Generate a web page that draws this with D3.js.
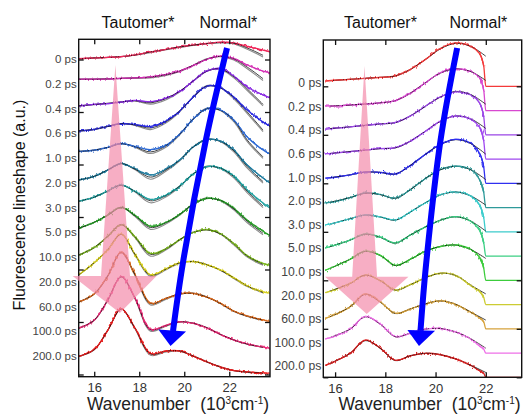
<!DOCTYPE html>
<html>
<head>
<meta charset="utf-8">
<script src="https://cdn.jsdelivr.net/npm/d3@7"></script>
<style>
  html, body { margin: 0; padding: 0; background: #fff; }
  svg { display: block; font-family: "Liberation Sans", Arial, sans-serif; }
</style>
</head>
<body>
<svg id="chart" width="526" height="414"></svg>
<script>
// ---- Delay times (one trace per delay, top to bottom) ----
const delays = ["0 ps", "0.2 ps", "0.4 ps", "0.6 ps", "1.0 ps", "2.0 ps", "3.0 ps",
                "5.0 ps", "10.0 ps", "20.0 ps", "60.0 ps", "100.0 ps", "200.0 ps"];
const xTicks = [16, 18, 20, 22];

// ---- Left panel: wavenumber grid (10^3 cm^-1) and lineshapes (a.u. above each baseline) ----
const leftGrid = [15.3, 16, 16.6, 17.2, 17.8, 18.5, 19.2, 19.8, 20.4, 21.0, 21.6, 22.2, 22.8, 23.5, 23.8];
const leftFitGrid = [15.3, 16, 16.6, 17.2, 17.8, 18.5, 19.2, 19.8, 20.4, 21.0, 21.6, 22.2, 22.8, 23.5];
const leftMeasured = [
  [0.3, 0.6, 0.8, 1.1, 1.7, 2.9, 3.9, 4.8, 5.5, 6.1, 6.6, 6.3, 5.0, 3.6, 2.9],
  [2.5, 2.5, 2.6, 2.8, 3.0, 3.4, 4.3, 5.6, 7.7, 10.1, 11.3, 10.4, 7.9, 5.6, 5.0],
  [2.3, 2.9, 3.2, 3.8, 4.4, 3.9, 5.3, 7.8, 11.8, 15.6, 16.6, 13.7, 9.5, 6.5, 5.4],
  [2.8, 3.4, 4.5, 5.6, 5.2, 4.5, 6.6, 10.4, 15.7, 19.9, 19.3, 15.7, 10.8, 6.2, 4.7],
  [5.0, 5.5, 6.5, 8.0, 6.9, 5.7, 7.4, 11.6, 17.3, 21.3, 20.8, 17.0, 10.5, 5.5, 4.0],
  [4.1, 5.5, 7.9, 10.4, 8.4, 6.0, 8.3, 11.7, 16.7, 19.5, 19.0, 15.5, 9.8, 4.9, 3.0],
  [6.0, 7.6, 9.9, 12.2, 9.9, 6.7, 8.4, 11.8, 16.4, 19.2, 18.7, 15.6, 10.3, 5.3, 3.4],
  [5.7, 8.0, 10.7, 13.7, 10.7, 6.5, 8.0, 11.0, 14.9, 17.1, 16.4, 13.3, 8.8, 4.6, 3.0],
  [5.5, 8.4, 12.6, 17.1, 12.6, 6.1, 8.0, 11.4, 14.1, 15.2, 13.7, 9.9, 5.3, 2.3, 1.7],
  [7.9, 12.6, 17.5, 23.6, 16.0, 8.0, 10.3, 12.6, 13.0, 11.8, 9.9, 6.9, 3.8, 1.5, 1.0],
  [7.6, 10.7, 17.5, 26.7, 18.3, 7.2, 9.1, 10.7, 10.9, 9.5, 7.2, 4.2, 2.3, 0.8, 0.2],
  [7.6, 10.7, 18.3, 27.4, 19.4, 7.2, 8.8, 10.1, 9.5, 7.8, 5.3, 3.2, 1.7, 0.4, 0.0],
  [6.9, 9.5, 16.8, 25.1, 17.9, 8.0, 9.0, 9.0, 7.0, 4.8, 2.9, 1.5, 1.0, 0.6, 0.5]
];
const leftFit = [
  [0.3, 0.6, 0.8, 1.1, 1.7, 2.9, 3.9, 4.8, 5.5, 6.1, 6.5, 6.2, 4.4, 1.6],
  [2.5, 2.5, 2.6, 2.8, 3.0, 3.3, 4.2, 5.6, 7.8, 10.1, 11.2, 10.2, 7.1, 2.7],
  [2.3, 2.9, 3.3, 3.8, 4.3, 3.5, 5.2, 7.9, 11.8, 15.5, 16.4, 13.5, 8.8, 2.9],
  [2.8, 3.4, 4.5, 5.5, 5.1, 3.9, 6.4, 10.4, 15.7, 19.8, 19.3, 15.5, 10.0, 3.1],
  [5.0, 5.5, 6.5, 7.9, 6.8, 4.8, 7.2, 11.6, 17.3, 21.2, 20.7, 16.8, 9.3, 2.9],
  [4.1, 5.5, 7.9, 10.3, 8.3, 5.2, 8.0, 11.7, 16.7, 19.4, 18.9, 15.3, 9.2, 3.5],
  [6.0, 7.6, 9.9, 12.1, 9.8, 6.2, 8.2, 11.8, 16.4, 19.1, 18.6, 15.4, 9.8, 4.2],
  [5.7, 8.0, 10.7, 13.6, 10.6, 6.0, 7.9, 11.0, 14.9, 17.0, 16.3, 13.1, 8.4, 3.8],
  [5.5, 8.4, 12.6, 17.0, 12.5, 5.8, 7.9, 11.4, 14.1, 15.1, 13.6, 9.8, 5.1, 2.0],
  [7.9, 12.6, 17.5, 23.4, 15.9, 7.8, 10.2, 12.6, 13.0, 11.8, 9.8, 6.8, 3.7, 1.3],
  [7.6, 10.7, 17.5, 26.5, 18.2, 7.0, 9.0, 10.7, 10.9, 9.5, 7.1, 4.1, 2.2, 0.7],
  [7.6, 10.7, 18.3, 27.2, 19.3, 7.0, 8.7, 10.1, 9.5, 7.8, 5.3, 3.2, 1.6, 0.4],
  [6.9, 9.5, 16.8, 24.9, 17.8, 7.8, 8.9, 9.0, 7.0, 4.8, 2.9, 1.5, 0.9, 0.5]
];
const leftAltFit = [
  [0.2, 0.5, 0.8, 1.1, 1.6, 2.6, 3.7, 4.6, 5.4, 6.0, 6.3, 5.9, 3.9, 1.0],
  [2.4, 2.5, 2.6, 2.8, 2.9, 3.0, 3.9, 5.4, 7.8, 10.3, 11.1, 9.8, 6.5, 2.0],
  [2.2, 2.8, 3.3, 3.9, 4.2, 3.0, 4.7, 7.6, 11.9, 15.8, 16.3, 13.0, 8.2, 2.3],
  [2.7, 3.3, 4.5, 5.6, 4.9, 3.3, 5.9, 10.1, 15.8, 20.1, 19.2, 15.0, 9.4, 2.5],
  [4.9, 5.4, 6.5, 8.0, 6.6, 4.2, 6.7, 11.3, 17.4, 21.5, 20.6, 16.3, 8.7, 2.3],
  [4.0, 5.4, 7.9, 10.4, 8.1, 4.4, 7.5, 11.4, 16.8, 19.7, 18.8, 14.8, 8.6, 2.9],
  [5.9, 7.5, 9.9, 12.2, 9.6, 5.4, 7.7, 11.5, 16.5, 19.4, 18.5, 14.9, 9.2, 3.6],
  [5.6, 7.9, 10.8, 13.7, 10.3, 5.3, 7.4, 10.7, 15.0, 17.3, 16.2, 12.7, 7.8, 3.2],
  [5.4, 8.3, 12.7, 17.2, 12.2, 5.1, 7.5, 11.2, 14.2, 15.3, 13.5, 9.4, 4.7, 1.6],
  [7.8, 12.5, 17.6, 23.5, 15.6, 7.3, 9.9, 12.4, 13.1, 11.9, 9.7, 6.6, 3.5, 1.1],
  [7.5, 10.6, 17.6, 26.6, 17.9, 6.5, 8.7, 10.5, 11.0, 9.6, 7.0, 4.0, 2.1, 0.6],
  [7.5, 10.6, 18.4, 27.3, 19.0, 6.5, 8.4, 9.9, 9.6, 7.9, 5.2, 3.1, 1.5, 0.3],
  [6.8, 9.4, 16.9, 25.0, 17.5, 7.3, 8.6, 8.8, 7.1, 4.9, 2.8, 1.4, 0.8, 0.4]
];
const leftColors = ["#f0285a", "#d42fb4", "#8a2be2", "#2a2ae0", "#2f6bd4", "#1f7b9e", "#22a3a3",
                    "#2aa02a", "#7ab51f", "#d9d21e", "#d9681c", "#ee2a78", "#ee1c1c"];

// ---- Right panel: detection cuts off at 22.0; flat baseline continues to the axis end ----
const rightGrid = [15.6, 16, 16.6, 17.2, 17.8, 18.4, 19.0, 19.6, 20.2, 20.8, 21.4, 21.75, 21.92];
const rightCutoff = 22.0;
const rightAxisEnd = 23.43;
const rightFitGrid = [15.8, 16.6, 17.2, 17.8, 18.4, 19.0, 19.6, 20.2, 20.8, 21.4, 22.0];
const rightMeasured = [
  [2.2, 2.5, 2.9, 3.3, 3.7, 4.3, 7.0, 11.1, 15.7, 17.9, 16.5, 13.6, 8.2],
  [1.9, 1.9, 2.3, 2.7, 3.2, 4.1, 7.2, 11.5, 15.7, 17.3, 16.1, 13.6, 8.2],
  [2.3, 2.7, 3.3, 3.9, 4.5, 5.1, 7.8, 11.8, 15.7, 17.7, 16.5, 13.2, 7.4],
  [2.1, 2.5, 3.1, 3.7, 4.3, 4.7, 7.4, 11.5, 15.7, 17.7, 16.5, 13.2, 7.4],
  [2.1, 2.5, 3.5, 4.7, 4.5, 3.9, 7.4, 12.0, 16.1, 18.1, 16.5, 12.4, 6.6],
  [1.9, 2.5, 4.1, 6.0, 5.4, 3.9, 7.4, 12.0, 15.7, 17.1, 15.7, 11.5, 6.2],
  [2.9, 3.7, 5.4, 7.0, 6.2, 4.9, 8.2, 12.0, 15.3, 16.5, 14.8, 11.1, 5.8],
  [3.3, 4.5, 6.6, 9.1, 7.8, 5.4, 8.7, 12.0, 14.8, 16.3, 14.4, 10.7, 5.4],
  [4.1, 5.8, 8.7, 12.0, 10.3, 6.2, 8.7, 12.0, 14.0, 14.6, 12.8, 9.5, 4.9],
  [4.9, 6.2, 8.7, 12.2, 9.9, 6.0, 8.2, 11.1, 13.0, 12.0, 7.8, 5.4, 2.9],
  [4.3, 5.8, 9.1, 14.4, 11.1, 6.4, 8.2, 10.3, 11.5, 10.1, 6.8, 4.5, 2.9],
  [5.8, 7.0, 9.9, 15.1, 12.0, 6.8, 8.2, 9.9, 10.1, 8.7, 5.8, 2.9, 1.6],
  [4.9, 6.6, 9.9, 15.3, 12.0, 7.0, 8.9, 9.9, 9.3, 7.6, 4.9, 2.7, 1.6]
];
const rightFit = [
  [2.3, 2.9, 3.3, 3.7, 4.3, 7.0, 11.1, 15.5, 17.7, 16.5, 12.4],
  [1.8, 2.3, 2.7, 3.2, 4.1, 7.2, 11.5, 15.5, 17.1, 16.1, 12.4],
  [2.6, 3.3, 3.9, 4.5, 5.0, 7.8, 11.8, 15.6, 17.9, 16.6, 12.6],
  [2.3, 3.1, 3.7, 4.3, 4.6, 7.4, 11.5, 15.6, 17.8, 16.6, 12.6],
  [2.3, 3.5, 4.6, 4.5, 3.8, 7.4, 12.0, 16.0, 18.0, 16.4, 12.0],
  [2.2, 4.1, 5.9, 5.3, 3.8, 7.4, 12.0, 15.6, 17.0, 15.6, 11.5],
  [3.1, 5.4, 6.9, 6.1, 4.8, 8.2, 12.0, 15.2, 16.4, 14.8, 11.0],
  [3.9, 6.6, 9.0, 7.7, 5.3, 8.7, 12.0, 14.8, 16.2, 14.4, 10.3],
  [4.9, 8.7, 11.9, 10.2, 6.1, 8.7, 12.0, 14.0, 14.5, 12.7, 9.0],
  [5.6, 8.7, 12.1, 9.8, 5.9, 8.2, 11.1, 12.9, 12.0, 8.0, 4.4],
  [5.0, 9.1, 14.2, 11.0, 6.3, 8.2, 10.3, 11.5, 10.1, 6.9, 3.6],
  [6.4, 9.9, 14.9, 11.9, 6.7, 8.2, 9.9, 10.1, 8.7, 5.9, 2.0],
  [5.7, 9.9, 15.1, 11.9, 6.9, 8.9, 9.9, 9.3, 7.6, 5.0, 2.0]
];
const rightColors = ["#f43a3a", "#d848d0", "#9a46e6", "#a048f0", "#2f2ff0", "#2e9a9a", "#3ccccc",
                     "#3ccf84", "#3ccc3c", "#cccc33", "#d6a23c", "#ee70e8", "#d82020"];

// ---------------------------------------------------------------------------
const FONT = "'Liberation Sans', Arial, sans-serif";
const svg = d3.select("#chart");
const n = delays.length;
const traceStep = 10;          // vertical offset between successive traces (a.u.)
const yTicks = d3.range(0, 121, 20);

const defs = svg.append("defs");
const jitter = defs.append("filter").attr("id", "jitter")
  .attr("filterUnits", "userSpaceOnUse")
  .attr("x", 0).attr("y", 0).attr("width", 526).attr("height", 414);
jitter.append("feTurbulence").attr("type", "fractalNoise")
  .attr("baseFrequency", "0.6 0.05").attr("numOctaves", 2).attr("seed", 5).attr("result", "n");
jitter.append("feDisplacementMap").attr("in", "SourceGraphic").attr("in2", "n")
  .attr("scale", 5).attr("xChannelSelector", "R").attr("yChannelSelector", "G");

function drawPanel(p) {
  const x = d3.scaleLinear().domain(p.xDomain).range([p.box.left, p.box.right]);
  const y = d3.scaleLinear().domain(p.yDomain).range([p.box.bottom, p.box.top]);
  const g = svg.append("g");

  defs.append("clipPath").attr("id", p.id + "-clip")
    .append("rect")
    .attr("x", p.box.left).attr("y", p.box.top)
    .attr("width", p.box.right - p.box.left).attr("height", p.box.bottom - p.box.top);

  const plot = g.append("g").attr("clip-path", `url(#${p.id}-clip)`);
  const altLayer = plot.append("g");
  const measuredLayer = plot.append("g");
  const fitLayer = plot.append("g");
  const noisyLayer = plot.append("g").attr("filter", "url(#jitter)");

  const smooth = d3.line().curve(d3.curveCatmullRom.alpha(0.5));
  const mono = d3.line().curve(d3.curveMonotoneX);

  for (let i = 0; i < n; i++) {
    const base = traceStep * (n - 1 - i);
    const pts = (grid, vals) => grid.map((w, k) => [x(w), y(base + vals[k])]);

    if (p.altFit) {
      altLayer.append("path")
        .attr("d", smooth(pts(p.altFitGrid, p.altFit[i])))
        .attr("fill", "none").attr("stroke", "#8c8c8c").attr("stroke-width", 1.1);
    }
    const md = smooth(pts(p.grid, p.measured[i]));
    measuredLayer.append("path").attr("d", md)
      .attr("fill", "none").attr("stroke", p.colors[i]).attr("stroke-width", 1.3);
    noisyLayer.append("path").attr("d", md)
      .attr("fill", "none").attr("stroke", p.colors[i]).attr("stroke-width", 1.1);

    if (p.cutoff !== undefined) {
      const last = p.measured[i].length - 1;
      const tail = [
        [p.grid[last - 1], p.measured[i][last - 1]],
        [p.grid[last], p.measured[i][last]],
        [p.cutoff, 0],
        [p.axisEnd, 0]
      ].map(d => [x(d[0]), y(base + d[1])]);
      measuredLayer.append("path")
        .attr("d", mono(tail))
        .attr("fill", "none").attr("stroke", p.colors[i]).attr("stroke-width", 1.3);
    }
    fitLayer.append("path")
      .attr("d", smooth(pts(p.fitGrid, p.fit[i])))
      .attr("fill", "none").attr("stroke", "#111").attr("stroke-width", 0.8);
  }

  // Frame and inward ticks on all four sides
  const axes = g.append("g").attr("color", "#111");
  const clean = sel => sel.select(".domain").remove();
  axes.append("g").attr("transform", `translate(0,${p.box.bottom})`)
    .call(d3.axisBottom(x).tickValues(xTicks).tickSizeInner(-5).tickSizeOuter(0).tickPadding(6))
    .call(clean)
    .call(s => s.selectAll("text").attr("font-size", 13).attr("fill", "#333")
      .attr("font-family", FONT));
  axes.append("g").attr("transform", `translate(0,${p.box.top})`)
    .call(d3.axisTop(x).tickValues(xTicks).tickSizeInner(-5).tickSizeOuter(0).tickFormat(""))
    .call(clean);
  axes.append("g").attr("transform", `translate(${p.box.left},0)`)
    .call(d3.axisLeft(y).tickValues(yTicks).tickSizeInner(-5).tickSizeOuter(0).tickFormat(""))
    .call(clean);
  axes.append("g").attr("transform", `translate(${p.box.right},0)`)
    .call(d3.axisRight(y).tickValues(yTicks).tickSizeInner(-5).tickSizeOuter(0).tickFormat(""))
    .call(clean);
  axes.selectAll(".tick line").attr("stroke-width", 1.3);
  g.append("rect")
    .attr("x", p.box.left).attr("y", p.box.top)
    .attr("width", p.box.right - p.box.left).attr("height", p.box.bottom - p.box.top)
    .attr("fill", "none").attr("stroke", "#111").attr("stroke-width", 1.4);

  // Delay labels
  const labelY = d3.scalePoint().domain(delays).range(p.labelRange);
  g.append("g").selectAll("text").data(delays).join("text")
    .attr("x", p.box.left - 2).attr("y", d => labelY(d)).attr("dy", "0.35em")
    .attr("text-anchor", "end").attr("font-size", p.labelSize).attr("fill", "#444")
    .attr("font-family", FONT)
    .text(d => d);

  // Band headings
  g.append("text").attr("x", p.headings[0]).attr("y", 28).attr("font-family", FONT)
    .attr("font-size", 16).attr("fill", "#111").text("Tautomer*");
  g.append("text").attr("x", p.headings[1]).attr("y", 28).attr("font-family", FONT)
    .attr("font-size", 16).attr("fill", "#111").text("Normal*");

  // Axis title
  const t = g.append("text").attr("x", p.titleX).attr("y", 410).attr("font-family", FONT)
    .attr("font-size", 17.5).attr("fill", "#222");
  t.append("tspan").text("Wavenumber\u00a0\u00a0(10");
  t.append("tspan").attr("dy", -6).attr("font-size", 10).text("3");
  t.append("tspan").attr("dy", 6).text("cm");
  t.append("tspan").attr("dy", -6).attr("font-size", 10).text("-1");
  t.append("tspan").attr("dy", 6).text(")");

  // Tautomer rise: translucent spike ending in a downward arrowhead
  const poly = d3.line().curve(d3.curveLinearClosed);
  g.append("path")
    .attr("d", poly(p.pink.map(d => [x(d[0]), y(d[1])])))
    .attr("fill", "#f38bab").attr("fill-opacity", 0.7);

  // Normal-band decay: thick blue arrow
  g.append("path")
    .attr("d", smooth(p.blueShaft.map(d => [x(d[0]), y(d[1])])))
    .attr("fill", "none").attr("stroke", "#0000ff").attr("stroke-width", 6);
  g.append("path")
    .attr("d", poly(p.blueHead.map(d => [x(d[0]), y(d[1])])))
    .attr("fill", "#0000ff");
}

drawPanel({
  id: "left",
  box: { left: 78.7, right: 270, top: 39.3, bottom: 376.7 },
  xDomain: [15.31, 23.81], yDomain: [-0.84, 127.7],
  grid: leftGrid, fitGrid: leftFitGrid, altFitGrid: leftFitGrid,
  measured: leftMeasured, fit: leftFit, altFit: leftAltFit, colors: leftColors,
  labelRange: [59, 356], labelSize: 11.5,
  headings: [101.5, 199.5], titleX: 87,
  pink: [[16.94, 117.9], [17.59, 37.5], [18.77, 37.5], [17.14, 23.4], [15.04, 37.5], [16.3, 37.5]],
  blueShaft: [[21.9, 124.4], [20.96, 89.3], [19.94, 42.5], [19.5, 16.5]],
  blueHead: [[18.85, 17.1], [19.39, 10.9], [20.08, 16.4]]
});

drawPanel({
  id: "right",
  box: { left: 323.3, right: 521.7, top: 40, bottom: 377.3 },
  xDomain: [15.53, 23.43], yDomain: [0, 139.1],
  grid: rightGrid, fitGrid: rightFitGrid, cutoff: rightCutoff, axisEnd: rightAxisEnd,
  measured: rightMeasured, fit: rightFit, colors: rightColors,
  labelRange: [83, 366], labelSize: 12.2,
  headings: [344, 449.5], titleX: 338.5,
  pink: [[17.17, 128.4], [17.67, 41.5], [18.92, 41.5], [17.26, 26.1], [15.6, 41.5], [16.68, 41.5]],
  blueShaft: [[20.86, 135.8], [20.2, 97.9], [19.62, 46.3], [19.4, 19.2]],
  blueHead: [[18.88, 19.5], [19.34, 12.9], [19.98, 19.2]]
});

// Shared y-axis title, sized to span the stacked traces
const yTitle = svg.append("text")
  .attr("transform", "translate(25,205) rotate(-90)")
  .attr("text-anchor", "middle").attr("font-size", 16).attr("fill", "#111")
  .attr("font-family", FONT)
  .text("Fluorescence lineshape (a.u.)");
const titleLen = yTitle.node().getComputedTextLength();
if (titleLen > 0) yTitle.attr("font-size", Math.min(16, 16 * 216 / titleLen));
</script>
</body>
</html>
